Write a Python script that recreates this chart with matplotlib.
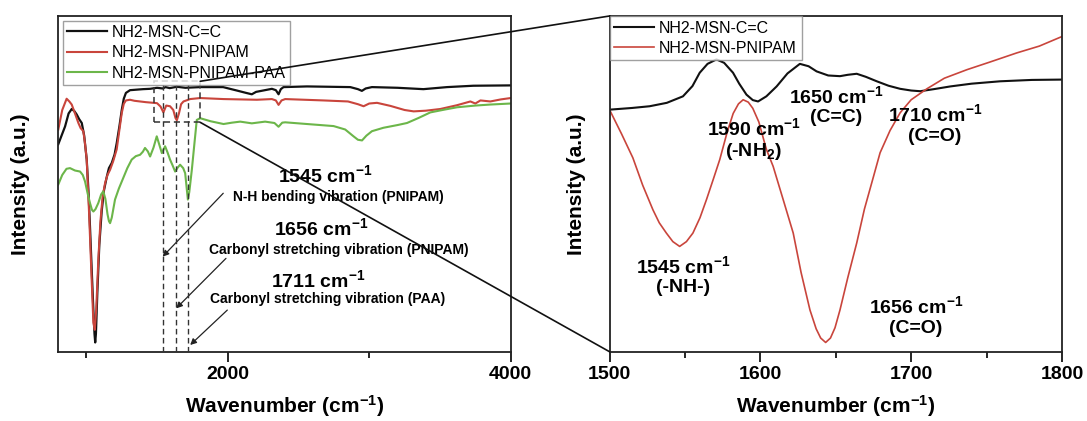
import matplotlib
matplotlib.use('Agg')
import matplotlib.pyplot as plt
from matplotlib.patches import Rectangle, ConnectionPatch
from matplotlib.ticker import FixedLocator

plt.rcParams['font.family'] = ['Liberation Sans', 'DejaVu Sans']
plt.rcParams['mathtext.fontset'] = 'custom'
plt.rcParams['mathtext.rm'] = 'Liberation Sans'
plt.rcParams['mathtext.bf'] = 'Liberation Sans:bold'
plt.rcParams['mathtext.default'] = 'regular'

# ---- full FTIR spectra (left panel), wavenumber [cm-1] / intensity [a.u.]
wn_c = [802, 850, 875, 897, 915, 932, 950, 968, 985, 1003, 1015, 1026, 1040, 1050, 1058, 1063, 1068,
        1078, 1092, 1109, 1125, 1145, 1160, 1180, 1200, 1215, 1235, 1251, 1265, 1280, 1309, 1400,
        1451, 1500, 1540, 1560, 1590, 1640, 1700, 1805, 1967, 2064, 2130, 2170, 2200, 2250, 2312,
        2340, 2359, 2375, 2394, 2560, 2866, 2920, 2948, 2975, 3019, 3200, 3383, 3550, 3736, 4000]
int_c = [62.5, 67.7, 71.5, 72.8, 72.2, 71.2, 69.8, 68.7, 65, 58, 49, 38.5, 24, 14, 7, 4.5, 7,
         19, 33, 43, 49, 53, 55.5, 57, 59.5, 62.8, 68, 72.6, 75.8, 77.5, 78.3, 78.6,
         78.7, 79.0, 78.8, 79.2, 78.9, 79.3, 79.0, 79.2, 79.2, 78.2, 77.5, 77.1, 77.8, 78.2, 78.7,
         78.3, 77.1, 78.6, 79.2, 79.4, 79.2, 78.6, 78.1, 78.8, 79.2, 79.0, 78.6, 79.2, 79.6, 79.7]

wn_pn = [802, 830, 861, 880, 897, 920, 944, 960, 979, 990, 1003, 1020, 1035, 1050, 1060, 1070, 1085,
         1100, 1115, 1133, 1150, 1168, 1190, 1215, 1235, 1251, 1265, 1280, 1309, 1340, 1380, 1420,
         1474, 1500, 1525, 1545, 1565, 1592, 1615, 1630, 1640, 1655, 1670, 1687, 1734, 1805, 1970,
         2206, 2312, 2340, 2359, 2380, 2406, 2677, 2850, 2920, 2960, 3000, 3055, 3150, 3250, 3314,
         3400, 3503, 3620, 3715, 3750, 3786, 3856, 3930, 4000]
int_pn = [66.8, 72.5, 75.8, 75.0, 74.1, 71.5, 68.7, 67.2, 66.3, 63, 58, 42, 26, 10.3, 8.2, 14, 28.7,
          40, 47, 51.2, 53.5, 55, 57.5, 61, 67, 71.7, 74.3, 75.3, 75.5, 75.2, 75, 74.8,
          74.6, 74.5, 73.5, 71.8, 73.8, 73.6, 72.5, 70.2, 69.5, 71.5, 74.2, 75, 75.7, 76, 75.7,
          75.5, 75.7, 75.3, 74.0, 75.3, 75.7, 75.3, 75, 74.2, 73.6, 74.4, 74.6, 73.7, 72.5, 72.1,
          72.3, 72.8, 73.9, 75, 74.4, 75.3, 75, 75.6, 76]

wn_paa = [802, 830, 860, 885, 920, 956, 975, 991, 1010, 1026, 1040, 1050, 1065, 1085, 1105, 1120,
          1135, 1150, 1160, 1168, 1180, 1203, 1230, 1251, 1290, 1321, 1350, 1380, 1400, 1415, 1435,
          1451, 1475, 1498, 1515, 1534, 1557, 1575, 1592, 1610, 1628, 1645, 1663, 1685, 1699, 1710,
          1718, 1728, 1746, 1765, 1781, 1805, 1880, 1970, 2030, 2088, 2170, 2264, 2330, 2359, 2385,
          2406, 2560, 2748, 2830, 2889, 2920, 2949, 2980, 3019, 3100, 3200, 3267, 3350, 3432, 3530,
          3621, 3750, 3856, 4000]
int_paa = [50.7, 53.5, 55.3, 55.5, 54.8, 54.5, 53.5, 51.6, 48, 45.3, 43.3, 42.8, 43.5, 45.3, 47.8, 48.7,
           46.5, 42, 40, 39.4, 41, 46.3, 49.5, 51.6, 55.5, 58, 59, 59.4, 60.3, 61.4, 60.4,
           58.9, 61.5, 64.8, 62.5, 59.9, 61.9, 60.0, 58, 56.3, 54.5, 55.6, 56.5, 55.5, 54, 49.5,
           46.3, 48.5, 55, 63, 69.6, 70.1, 69.2, 68.4, 68.8, 69.1, 68.6, 69.1, 68.7, 67.6, 68.8,
           68.9, 68.4, 67.8, 66.8, 64.8, 63.8, 63.6, 65, 66.3, 67.3, 68.1, 68.7, 70.2, 71.8, 72.6,
           73.3, 73.8, 74.1, 74.4]

# ---- zoom 1500-1800 cm-1 (right panel)
wn_c_z = [1500, 1515, 1526.6, 1538, 1548.7, 1555, 1559.8, 1565, 1570.9, 1576, 1581.9, 1586, 1590.8,
          1595, 1598.5, 1604, 1610.8, 1618, 1626.2, 1632, 1637.3, 1645, 1652.8, 1658, 1663.9, 1670,
          1677.2, 1685, 1692.7, 1700, 1706, 1715, 1726, 1740, 1759, 1780, 1800]
int_c_z = [72.6, 73.1, 73.6, 74.6, 76.5, 79.5, 83.4, 86.0, 87.3, 86.3, 83.4, 80.2, 77,
           75.4, 75, 76.5, 79.4, 83.2, 86, 85.3, 83.8, 82.6, 82.4, 82.8, 83.1, 82.2,
           80.9, 79.6, 78.7, 78.2, 78, 78.6, 79.4, 80.2, 80.9, 81.3, 81.4]

wn_pn_z = [1500, 1508, 1515.5, 1522, 1528.8, 1533, 1537.7, 1542, 1546.5, 1551, 1555.3, 1560, 1564.3,
           1569, 1573.1, 1578, 1582, 1585.5, 1588.6, 1592, 1595, 1599, 1604, 1608.5, 1615, 1621.8,
           1627, 1632.9, 1637, 1640, 1643.3, 1646.5, 1649.5, 1652.8, 1658, 1663.9, 1669, 1675,
           1679.4, 1686, 1692.7, 1700, 1710.4, 1722, 1737, 1752, 1770, 1785, 1800]
int_pn_z = [72.6, 65.5, 58.5, 50.5, 43.3, 39.5, 36.5, 34, 32.6, 34, 36.5, 41, 46.3,
            52.5, 58, 66, 71.5, 74.3, 75.5, 74.8, 73, 69, 61, 56, 46.5, 36.5,
            25, 14, 8.5, 5.8, 4.5, 5.8, 8.8, 14, 23.5, 33.6, 43.5, 53,
            60, 66.5, 71.7, 75.5, 78.7, 81.8, 84.3, 86.5, 89.2, 91.2, 94]

labels = ['NH2-MSN-C=C', 'NH2-MSN-PNIPAM', 'NH2-MSN-PNIPAM-PAA']
colors = ['#111111', '#c9453c', '#6cb64a']
peak_lines = [1540, 1634, 1721]
zoom_box = (1480, 1805, 68.9, 80.9)  # x0, x1, y0, y1

ylim = (1.8, 100)
lbl = dict(fontsize=14, fontweight='bold')
CM = 'cm$^{\\mathregular{-1}}$'

fig = plt.figure(figsize=(10.87, 4.21), dpi=100)
ax1 = fig.add_axes([0.05336, 0.16461, 0.41647, 0.79739])
ax2 = fig.add_axes([0.56072, 0.16461, 0.41628, 0.79739])

for ax in (ax1, ax2):
    for sp in ax.spines.values():
        sp.set_linewidth(1.3)
        sp.set_color('#222222')
    ax.set_yticks([])
    ax.tick_params(axis='x', which='major', direction='out', length=7, width=1.2, pad=3,
                   labelsize=14, top=False)
    ax.tick_params(axis='x', which='minor', direction='out', length=4, width=1.2, top=False)
    ax.set_ylim(*ylim)

# left panel
ax1.plot(wn_c, int_c, color=colors[0], lw=1.6, label=labels[0])
ax1.plot(wn_pn, int_pn, color=colors[1], lw=1.5, label=labels[1])
ax1.plot(wn_paa, int_paa, color=colors[2], lw=1.5, label=labels[2])
ax1.set_xlim(800, 4000)
ax1.xaxis.set_major_locator(FixedLocator([2000, 4000]))
ax1.xaxis.set_minor_locator(FixedLocator([1000, 3000]))
x0, x1, y0, y1 = zoom_box
ax1.add_patch(Rectangle((x0, y0), x1 - x0, y1 - y0, fill=False, ls=(0, (4, 2.5)), lw=1.1,
                        ec='#333333', zorder=4))
ax1.vlines(peak_lines, ylim[0], y1, colors='#333333', linestyles=(0, (4, 2.5)), lw=1.0, zorder=4)

leg1 = ax1.legend(loc='upper left', fontsize=11.5, frameon=True, fancybox=False, borderaxespad=0.3,
                  handlelength=2.5, labelspacing=0.35, borderpad=0.25, handletextpad=0.3)
leg1.get_frame().set_edgecolor('#888888')
leg1.get_frame().set_linewidth(1.0)

small = dict(fontsize=10, fontweight='bold', ha='center', va='center')
ax1.text(0.59, 0.526, '1545 ' + CM, transform=ax1.transAxes, ha='center', va='center', **lbl)
ax1.text(0.619, 0.462, 'N-H bending vibration (PNIPAM)', transform=ax1.transAxes, **small)
ax1.text(0.581, 0.368, '1656 ' + CM, transform=ax1.transAxes, ha='center', va='center', **lbl)
ax1.text(0.621, 0.303, 'Carbonyl stretching vibration (PNIPAM)', transform=ax1.transAxes, **small)
ax1.text(0.574, 0.214, '1711 ' + CM, transform=ax1.transAxes, ha='center', va='center', **lbl)
ax1.text(0.596, 0.156, 'Carbonyl stretching vibration (PAA)', transform=ax1.transAxes, **small)

arrows = [((0.365, 0.472), (0.231, 0.283)),
          ((0.371, 0.278), (0.261, 0.129)),
          ((0.374, 0.124), (0.292, 0.020))]
for tail, head in arrows:
    ax1.annotate('', xy=head, xycoords='axes fraction', xytext=tail, textcoords='axes fraction',
                 arrowprops=dict(arrowstyle='-|>', color='#222222', lw=0.9,
                                 mutation_scale=9, shrinkA=0, shrinkB=0))

ax1.set_xlabel('Wavenumber (' + CM + ')', fontsize=15, fontweight='bold', va='center')
ax1.xaxis.set_label_coords(0.5, -0.163)
ax1.set_ylabel('Intensity (a.u.)', fontsize=15, fontweight='bold', va='center')
ax1.yaxis.set_label_coords(-0.082, 0.5)

# right panel
ax2.plot(wn_c_z, int_c_z, color=colors[0], lw=1.5, label=labels[0])
ax2.plot(wn_pn_z, int_pn_z, color=colors[1], lw=1.2, label=labels[1])
ax2.set_xlim(1500, 1800)
ax2.xaxis.set_major_locator(FixedLocator([1500, 1600, 1700, 1800]))
ax2.xaxis.set_minor_locator(FixedLocator([1550, 1650, 1750]))
leg2 = ax2.legend(loc='upper left', fontsize=11.5, frameon=True, fancybox=False, borderaxespad=0.0,
                  handlelength=2.5, labelspacing=0.3, borderpad=0.3, handletextpad=0.3)
leg2.get_frame().set_edgecolor('#888888')
leg2.get_frame().set_linewidth(1.0)

notes = [(0.5006, 0.732, '1650 ' + CM + '\n(C=C)'),
         (0.319, 0.631, '1590 ' + CM + '\n(-NH$_{\\mathregular{2}}$)'),
         (0.719, 0.678, '1710 ' + CM + '\n(C=O)'),
         (0.162, 0.226, '1545 ' + CM + '\n(-NH-)'),
         (0.677, 0.106, '1656 ' + CM + '\n(C=O)')]
for fx, fy, s in notes:
    ax2.text(fx, fy, s, transform=ax2.transAxes, ha='center', va='center', multialignment='center',
             linespacing=1.15, **lbl)

ax2.set_xlabel('Wavenumber (' + CM + ')', fontsize=15, fontweight='bold', va='center')
ax2.xaxis.set_label_coords(0.5, -0.163)
ax2.set_ylabel('Intensity (a.u.)', fontsize=15, fontweight='bold', va='center')
ax2.yaxis.set_label_coords(-0.072, 0.5)

for ax in (ax1, ax2):
    for t in ax.get_xticklabels():
        t.set_fontweight('bold')

# zoom connectors
for ya, yb in [(y1, 1.0), (y0, 0.0)]:
    con = ConnectionPatch(xyA=(x1, ya), coordsA=ax1.transData, xyB=(0.0, yb), coordsB=ax2.transAxes,
                          color='#111111', lw=1.2)
    fig.add_artist(con)

fig.savefig('out.png', dpi=100)
